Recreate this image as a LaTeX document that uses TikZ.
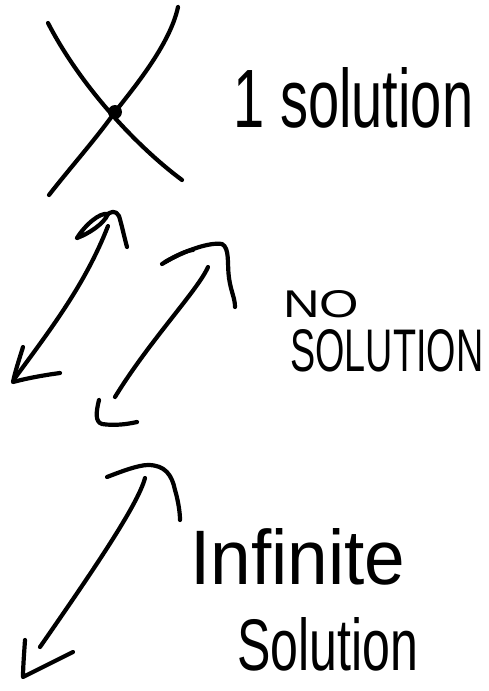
\documentclass[tikz,border=0pt]{standalone}
\usepackage{fontspec}
\setmainfont{Liberation Sans}
\usepackage{graphicx}
% fit a handwritten-style word into a given width and height
\newcommand{\handword}[3]{\resizebox{#1}{#2}{#3}}
\begin{document}
\begin{tikzpicture}[x=0.5pt,y=-0.5pt,
  pen/.style={line width=2.1pt,line cap=round,line join=round},
  label/.style={inner sep=0pt,anchor=base west}]
\useasboundingbox (0,0) rectangle (488,691);

% --- two crossing lines: one solution
\draw[pen] (48,23) .. controls (80,85) and (135,145) .. (182,180);
\draw[pen] (178,7) .. controls (170,45) and (132,90) .. (115,112)
           .. controls (95,140) and (70,168) .. (49,195);
\fill (115,112) circle (7);
\node[label] (one) at (233,127) {\handword{120pt}{30pt}{1 solution}};

% --- two parallel lines: no solution
% left line
\draw[pen] (108,226) .. controls (85,285) and (50,330) .. (15,378);
\draw[pen] (77,238) .. controls (85,225) and (100,212) .. (108,214)
           .. controls (104,224) and (88,234) .. (77,238);
\draw[pen] (106,216) .. controls (110,211) and (116,210) .. (119,216)
           .. controls (122,226) and (124,236) .. (127,247);
\draw[pen] (23,347) .. controls (19,360) and (15,372) .. (13,382)
           .. controls (28,378) and (45,375) .. (60,373);
% right line
\draw[pen] (208,267) .. controls (198,290) and (150,340) .. (115,397);
\draw[pen] (162,264) .. controls (185,250) and (210,242) .. (222,244)
           .. controls (230,248) and (227,265) .. (229,278)
           .. controls (231,292) and (235,298) .. (235,307);
\draw[pen] (165,262) .. controls (175,256) and (188,250) .. (193,250);
\draw[pen] (99,400) .. controls (96,412) and (95,422) .. (102,424)
           .. controls (115,426) and (128,424) .. (137,422);
\node[label] (no) at (283,317) {\handword{38pt}{13.5pt}{NO}};
\node[label] (nosol) at (290,371) {\handword{96.5pt}{21pt}{SOLUTION}};

% --- one line drawn twice: infinite solutions
\draw[pen] (145,478) .. controls (138,505) and (90,575) .. (40,647);
\draw[pen] (107,477) .. controls (120,472) and (138,465) .. (148,465)
           .. controls (165,465) and (172,475) .. (175,490)
           .. controls (178,500) and (180,512) .. (180,520);
\draw[pen] (25,640) .. controls (24,655) and (23,668) .. (23,677)
           -- (73,652);
\node[label] (inf) at (190,584) {\handword{107.5pt}{28pt}{Infinite}};
\node[label] (infsol) at (237,670) {\handword{90.5pt}{26.5pt}{Solution}};
\end{tikzpicture}
\end{document}
